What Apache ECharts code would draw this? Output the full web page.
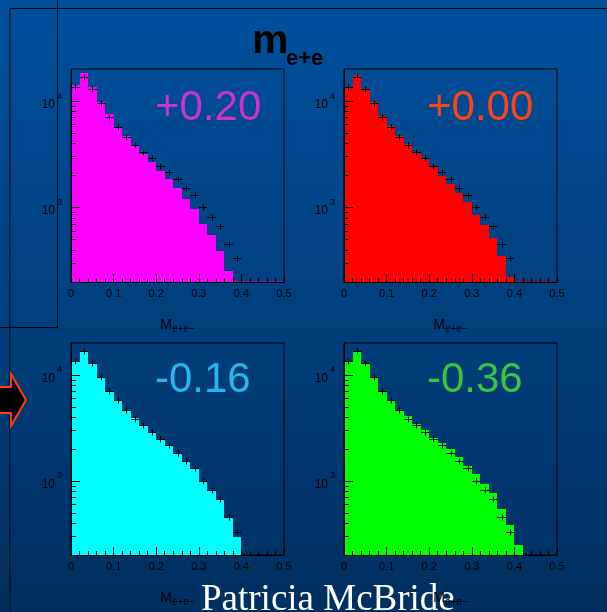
<!DOCTYPE html>
<html>
<head>
<meta charset="utf-8">
<script src="https://cdn.jsdelivr.net/npm/echarts@6/dist/echarts.min.js"></script>
<style>
  html, body { margin: 0; padding: 0; }
  #chart { width: 607px; height: 612px; }
</style>
</head>
<body>
<div id="chart"></div>
<script>
// Histogram bin width in GeV (bins start at 0)
const binWidth = 0.02;

// Simulated m(e+e-) spectra, entries per bin, one list per mixing value
const mcPlus020  = [14300, 18200, 13600, 9860, 7500, 5740, 4700, 3840, 3180, 2700, 2220, 1840, 1510, 1200, 965, 703, 547, 387, 251, 0, 0, 0, 0, 0, 0];
const mcPlus000  = [13600, 17500, 12860, 9720, 7290, 5830, 4700, 3925, 3350, 2860, 2390, 1995, 1667, 1360, 1137, 853, 688, 523, 348, 225, 0, 0, 0, 0, 0];
const mcMinus016 = [13330, 16900, 12860, 9510, 7030, 5740, 4630, 3925, 3300, 2900, 2475, 2140, 1815, 1517, 1333, 986, 824, 664, 447, 294];
const mcMinus036 = [13330, 16670, 12680, 9370, 6980, 5670, 4630, 4070, 3420, 3005, 2565, 2255, 1995, 1690, 1385, 1155, 937, 766, 546, 387, 248];

// Measured spectrum (same in every panel), entries per bin
const dataCounts = [13500, 16900, 12860, 9640, 7030, 5740, 4630, 3870, 3350, 2900, 2475, 2175, 1845, 1540, 1315, 1007, 824, 673, 457, 333];

// Panel labels
const panelLabels = ['+0.20', '+0.00', '-0.16', '-0.36'];

// Axis ranges and tick values
const xRange = [0, 0.5];
const xMajorStep = 0.1;
const yRange = [200, 20000];
const yMajorTicks = [1000, 10000];
const yMinorTicks = [300, 400, 500, 600, 700, 800, 900, 2000, 3000, 4000, 5000, 6000, 7000, 8000, 9000];

const panelSpectra = [mcPlus020, mcPlus000, mcMinus016, mcMinus036];
const fillColors  = ['#ff00ff', '#ff0000', '#00ffff', '#00ff00'];
const labelColors = ['#cc33cc', '#ff4412', '#2ab4ee', '#3cc43c'];
const gridBoxes = [
  { left: 71,  top: 69,  width: 213, height: 213 },
  { left: 344, top: 69,  width: 213, height: 213 },
  { left: 71,  top: 343, width: 213, height: 212 },
  { left: 344, top: 343, width: 213, height: 212 }
];

const SANS = '"Liberation Sans", Arial, Helvetica, sans-serif';
const SERIF = '"Liberation Serif", "Times New Roman", serif';

function histRows(counts) {
  return counts.map((n, i) => [i * binWidth, (i + 1) * binWidth, n]);
}
function dataRows(counts) {
  return counts.map((n, i) => [(i + 0.5) * binWidth, n]);
}

function histRenderer(color) {
  return function (params, api) {
    const lo = api.value(0), hi = api.value(1), n = api.value(2);
    const base = api.coord([lo, yRange[0]]);
    const x0 = Math.round(base[0]);
    if (!(n > yRange[0])) {
      const end = api.coord([hi, yRange[0]]);
      return {
        type: 'line',
        shape: { x1: x0, y1: base[1] - 0.5, x2: Math.round(end[0]), y2: end[1] - 0.5 },
        style: { stroke: color, lineWidth: 1, opacity: 0.6 }
      };
    }
    const top = api.coord([hi, n]);
    const x1 = Math.round(top[0]);
    const yTop = Math.round(top[1]);
    const yBot = Math.round(base[1]);
    return {
      type: 'rect',
      shape: { x: x0, y: yTop, width: x1 - x0, height: yBot - yTop },
      style: { fill: color }
    };
  };
}

function crossRenderer(params, api) {
  const x = api.value(0), n = api.value(1);
  const c = api.coord([x, n]);
  const l = api.coord([x - binWidth / 2, n]);
  const r = api.coord([x + binWidth / 2, n]);
  const y = Math.round(c[1]) + 0.5;
  const cx = Math.round(c[0]) + 0.5;
  return {
    type: 'group',
    children: [
      { type: 'line', shape: { x1: Math.round(l[0]), y1: y, x2: Math.round(r[0]), y2: y }, style: { stroke: '#000', lineWidth: 1 } },
      { type: 'line', shape: { x1: cx, y1: y - 3, x2: cx, y2: y + 3 }, style: { stroke: '#000', lineWidth: 1 } }
    ]
  };
}

const grid = [], xAxis = [], yAxis = [], series = [];
gridBoxes.forEach((g, k) => {
  grid.push(Object.assign({ show: true, borderColor: '#000', borderWidth: 1, backgroundColor: 'transparent' }, g));
  xAxis.push({
    type: 'value', gridIndex: k, min: xRange[0], max: xRange[1], interval: xMajorStep, z: 5,
    axisLine: { show: true, lineStyle: { color: '#000', width: 1 } },
    axisTick: { show: true, inside: true, length: 8, lineStyle: { color: '#000' } },
    minorTick: { show: true, splitNumber: 5, length: 4, lineStyle: { color: '#000' } },
    splitLine: { show: false },
    axisLabel: { color: '#000', fontFamily: SANS, fontSize: 11, margin: 6 },
    name: 'M{s|e+e\u2212}', nameLocation: 'middle', nameGap: 35,
    nameTextStyle: {
      color: '#000', fontFamily: SANS, fontSize: 14, lineHeight: 17,
      rich: { s: { fontFamily: SANS, fontSize: 10, color: '#000', lineHeight: 17, verticalAlign: 'bottom', padding: [7, 0, 0, 0] } }
    }
  });
  // log axis carrying the decade ticks and labels
  yAxis.push({
    type: 'log', logBase: 10, gridIndex: k, min: yRange[0], max: yRange[1], position: 'left', z: 5,
    axisLine: { show: true, lineStyle: { color: '#000', width: 1 } },
    axisTick: { show: true, inside: true, length: 9, customValues: yMajorTicks, lineStyle: { color: '#000' } },
    splitLine: { show: false },
    axisLabel: {
      customValues: yMajorTicks, margin: 9, color: '#000', fontFamily: SANS, fontSize: 12,
      formatter: v => '{b|10}{e|' + Math.round(Math.log10(v)) + '}',
      rich: {
        b: { fontFamily: SANS, fontSize: 12, color: '#000', lineHeight: 19, verticalAlign: 'bottom' },
        e: { fontFamily: SANS, fontSize: 9, color: '#000', lineHeight: 19, verticalAlign: 'top', padding: [0, 0, 0, 2] }
      }
    }
  });
  // same log scale, intermediate ticks only
  yAxis.push({
    type: 'log', logBase: 10, gridIndex: k, min: yRange[0], max: yRange[1], position: 'left', offset: 0, z: 5,
    axisLine: { show: false },
    axisTick: { show: true, inside: true, length: 5, customValues: yMinorTicks, lineStyle: { color: '#000' } },
    splitLine: { show: false },
    axisLabel: { show: false }
  });
  series.push({
    type: 'custom', xAxisIndex: k, yAxisIndex: 2 * k, z: 2,
    renderItem: histRenderer(fillColors[k]),
    encode: { x: [0, 1], y: 2 },
    data: histRows(panelSpectra[k])
  });
  series.push({
    type: 'custom', xAxisIndex: k, yAxisIndex: 2 * k, z: 3,
    renderItem: crossRenderer,
    encode: { x: 0, y: 1 },
    data: dataRows(dataCounts)
  });
});

const labelPos = [[155, 108], [427, 108], [155, 380], [427, 380]];
const graphic = [
  // slide frame lines
  { type: 'line', z: 1, shape: { x1: 10, y1: 8.5, x2: 607, y2: 8.5 }, style: { stroke: '#000', lineWidth: 1 } },
  { type: 'line', z: 1, shape: { x1: 10, y1: 8, x2: 10, y2: 612 }, style: { stroke: '#000', lineWidth: 1 } },
  { type: 'line', z: 1, shape: { x1: 57.5, y1: 0, x2: 57.5, y2: 328 }, style: { stroke: '#000', lineWidth: 1 } },
  { type: 'line', z: 1, shape: { x1: 0, y1: 327.5, x2: 58, y2: 327.5 }, style: { stroke: '#000', lineWidth: 1 } },
  // arrow
  { type: 'polygon', z: 2,
    shape: { points: [[-4, 387], [11, 387], [11, 374], [26, 400], [11, 426], [11, 413], [-4, 413]] },
    style: { fill: '#000', stroke: '#ff3d10', lineWidth: 2, lineJoin: 'miter' } },
  // heading
  { type: 'text', z: 6, x: 252, y: 42,
    style: { text: 'm', fill: '#000', font: 'bold 41px ' + SANS, verticalAlign: 'middle' } },
  { type: 'text', z: 6, x: 286, y: 59,
    style: { text: 'e+e', fill: '#000', font: 'bold 22px ' + SANS, verticalAlign: 'middle' } },
  // author line
  { type: 'text', z: 1, x: 201, y: 600,
    style: { text: 'Patricia McBride', fill: '#ffffff', font: '37px ' + SERIF, verticalAlign: 'middle' } }
];
panelLabels.forEach((t, k) => {
  graphic.push({ type: 'text', z: 6, x: labelPos[k][0], y: labelPos[k][1],
    style: { text: t, fill: labelColors[k], font: '42px ' + SANS, verticalAlign: 'middle' } });
});

const chart = echarts.init(document.getElementById('chart'), null, { renderer: 'canvas' });
chart.setOption({
  animation: false,
  backgroundColor: {
    type: 'linear', x: 0, y: 0, x2: 0, y2: 1,
    colorStops: [{ offset: 0, color: '#00509c' }, { offset: 1, color: '#002f60' }]
  },
  grid, xAxis, yAxis, series, graphic
});
</script>
</body>
</html>
